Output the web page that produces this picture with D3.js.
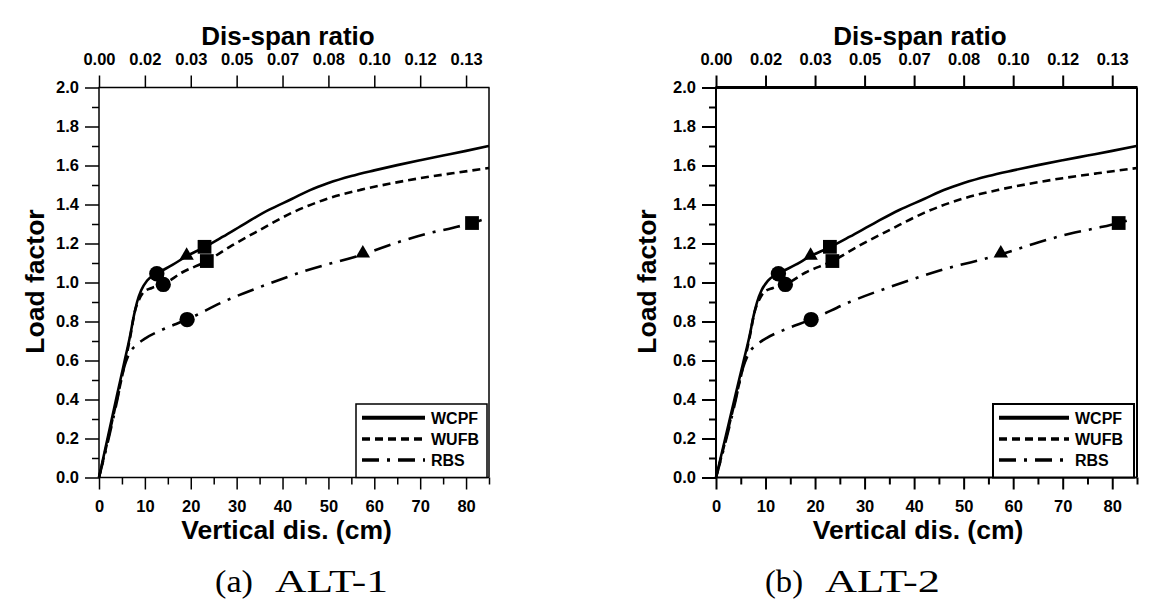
<!DOCTYPE html>
<html>
<head>
<meta charset="utf-8">
<script src="https://cdn.jsdelivr.net/npm/d3@7"></script>
<style>
  html, body { margin: 0; padding: 0; background: #fff; }
  svg { display: block; }
  .sans { font-family: "Liberation Sans", Arial, sans-serif; font-weight: bold; }
</style>
</head>
<body>
<svg id="chart" width="1168" height="607"></svg>
<script>
// ---------------- data ----------------
const xMajorTicks = [0, 10, 20, 30, 40, 50, 60, 70, 80];
const xMinorTicks = [5, 15, 25, 35, 45, 55, 65, 75, 85];
const ratioLabels = ["0.00", "0.02", "0.03", "0.05", "0.07", "0.08", "0.10", "0.12", "0.13"];
const yMajorTicks = [0, 0.2, 0.4, 0.6, 0.8, 1.0, 1.2, 1.4, 1.6, 1.8, 2.0];
const yMinorTicks = [0.1, 0.3, 0.5, 0.7, 0.9, 1.1, 1.3, 1.5, 1.7, 1.9];
const spanCm = 600;

const seriesNames = ["WCPF", "WUFB", "RBS"];

const wcpfX = [0, 2, 4, 5.5, 6.8, 7.6, 8.3, 9.2, 10.5, 12.6, 16, 19.1, 22.9, 27, 32, 37, 42, 46, 50, 55, 60, 65, 70, 75, 80, 85];
const wcpfY = [0, 0.215, 0.43, 0.59, 0.73, 0.83, 0.9, 0.96, 1.01, 1.045, 1.09, 1.135, 1.18, 1.235, 1.305, 1.372, 1.428, 1.474, 1.51, 1.546, 1.575, 1.602, 1.627, 1.651, 1.675, 1.70];

const wufbX = [0, 2, 4, 5.5, 6.8, 7.8, 8.7, 9.7, 11.5, 14.0, 18, 23.5, 29, 35.1, 42, 49.6, 57, 64.1, 70, 77, 85];
const wufbY = [0, 0.2, 0.41, 0.57, 0.72, 0.85, 0.91, 0.95, 0.972, 0.99, 1.05, 1.11, 1.19, 1.27, 1.357, 1.428, 1.475, 1.51, 1.535, 1.56, 1.587];

const rbsX = [0, 2, 4, 5.3, 6.7, 8.2, 10.2, 14, 19.2, 27, 35.1, 45, 57.6, 65, 71.4, 77, 81.3, 83.4];
const rbsY = [0, 0.19, 0.4, 0.55, 0.64, 0.68, 0.715, 0.76, 0.81, 0.9, 0.977, 1.06, 1.145, 1.205, 1.25, 1.28, 1.305, 1.32];

const circleX = [12.6, 14.0, 19.2];
const circleY = [1.045, 0.99, 0.81];
const triangleX = [19.1, 57.5];
const triangleY = [1.138, 1.15];
const squareX = [23.0, 23.5, 81.3];
const squareY = [1.183, 1.11, 1.305];

const captionTags = ["(a)", "(b)"];
const captionNames = ["ALT-1", "ALT-2"];
const xTitle = "Vertical dis. (cm)";
const topTitle = "Dis-span ratio";
const yTitle = "Load factor";

// ---------------- drawing ----------------
const svg = d3.select("#chart");

const series = [
  { name: seriesNames[0], xs: wcpfX, ys: wcpfY, dash: null },
  { name: seriesNames[1], xs: wufbX, ys: wufbY, dash: "8,5" },
  { name: seriesNames[2], xs: rbsX, ys: rbsY, dash: "17,8,3,8" }
];

function drawPanel(cfg) {
  const g = svg.append("g");
  const top = 87.5, bottom = 477.5;
  const x = d3.scaleLinear().domain([0, 85]).range([cfg.left, cfg.right]);
  const y = d3.scaleLinear().domain([0, 2]).range([bottom, top]);
  const xr = d3.scaleLinear().domain([0, 85 / spanCm]).range([cfg.left, cfg.right]);
  const sw = cfg.sw;

  function styleAxis(sel) {
    sel.select(".domain").remove();
    sel.selectAll("line").attr("stroke", "#000").attr("stroke-width", sw);
    sel.selectAll("text").attr("class", "sans").attr("font-size", 16.5).attr("fill", "#000");
  }

  // bottom axis
  g.append("g").attr("transform", `translate(0,${bottom})`)
    .call(d3.axisBottom(x).tickValues(xMajorTicks).tickSize(12).tickPadding(10.5).tickFormat(d3.format("d")))
    .call(styleAxis);
  g.append("g").attr("transform", `translate(0,${bottom})`)
    .call(d3.axisBottom(x).tickValues(xMinorTicks).tickSize(7).tickFormat(""))
    .call(styleAxis);
  // left axis
  g.append("g").attr("transform", `translate(${cfg.left},0)`)
    .call(d3.axisLeft(y).tickValues(yMajorTicks).tickSize(14).tickPadding(6).tickFormat(d3.format(".1f")))
    .call(styleAxis);
  g.append("g").attr("transform", `translate(${cfg.left},0)`)
    .call(d3.axisLeft(y).tickValues(yMinorTicks).tickSize(7).tickFormat(""))
    .call(styleAxis);
  // top axis (dis-span ratio)
  g.append("g").attr("transform", `translate(0,${top})`)
    .call(d3.axisTop(xr).tickValues(xMajorTicks.map(v => v / spanCm)).tickSize(12).tickPadding(10.5)
      .tickFormat((d, i) => ratioLabels[i]))
    .call(styleAxis);

  // frame
  g.append("line").attr("x1", cfg.left).attr("x2", cfg.left).attr("y1", top).attr("y2", bottom)
    .attr("stroke", "#000").attr("stroke-width", sw);
  g.append("line").attr("x1", cfg.left).attr("x2", cfg.right).attr("y1", bottom).attr("y2", bottom)
    .attr("stroke", "#000").attr("stroke-width", sw);
  g.append("line").attr("x1", cfg.right).attr("x2", cfg.right).attr("y1", top).attr("y2", bottom)
    .attr("stroke", "#000").attr("stroke-width", sw);
  g.append("line").attr("x1", cfg.left - 0.5).attr("x2", cfg.right + 0.5).attr("y1", top).attr("y2", top)
    .attr("stroke", "#000").attr("stroke-width", cfg.topW);

  // curves
  const line = d3.line().x(d => x(d[0])).y(d => y(d[1])).curve(d3.curveMonotoneX);
  series.forEach(s => {
    const pts = s.xs.map((v, i) => [v, s.ys[i]]);
    g.append("path").attr("d", line(pts)).attr("fill", "none").attr("stroke", "#000")
      .attr("stroke-width", 2.6).attr("stroke-dasharray", s.dash);
  });

  // markers
  const sym = d3.symbol();
  circleX.forEach((v, i) => {
    g.append("path").attr("transform", `translate(${x(v)},${y(circleY[i])})`)
      .attr("d", sym.type(d3.symbolCircle).size(185)()).attr("fill", "#000");
  });
  triangleX.forEach((v, i) => {
    g.append("path").attr("transform", `translate(${x(v)},${y(triangleY[i])})`)
      .attr("d", sym.type(d3.symbolTriangle).size(90)()).attr("fill", "#000");
  });
  squareX.forEach((v, i) => {
    g.append("path").attr("transform", `translate(${x(v)},${y(squareY[i])})`)
      .attr("d", sym.type(d3.symbolSquare).size(190)()).attr("fill", "#000");
  });

  // legend
  const lg = g.append("g");
  lg.append("rect").attr("x", cfg.legL).attr("y", 404).attr("width", cfg.legR - cfg.legL).attr("height", bottom - 404)
    .attr("fill", "#fff").attr("stroke", "#000").attr("stroke-width", sw);
  const rowsY = [417.7, 439, 460];
  series.forEach((s, i) => {
    lg.append("line").attr("x1", cfg.legL + 6).attr("x2", cfg.legL + 6 + cfg.legLine)
      .attr("y1", rowsY[i]).attr("y2", rowsY[i])
      .attr("stroke", "#000").attr("stroke-width", i === 0 ? 4 : 3.5).attr("stroke-dasharray", s.dash);
    lg.append("text").attr("class", "sans").attr("font-size", 16)
      .attr("x", cfg.legL + 6 + cfg.legLine + 6).attr("y", rowsY[i] + 6)
      .text(s.name);
  });

  // titles
  g.append("text").attr("class", "sans").attr("font-size", 26).attr("text-anchor", "middle")
    .attr("x", cfg.topTitleX).attr("y", 45).text(topTitle);
  g.append("text").attr("class", "sans").attr("font-size", 26.5).attr("text-anchor", "middle")
    .attr("x", cfg.xTitleX).attr("y", 539).text(xTitle);
  g.append("text").attr("class", "sans").attr("font-size", 26.5).attr("text-anchor", "middle")
    .attr("transform", `translate(${cfg.yTitleX},281.5) rotate(-90)`).text(yTitle);

  // caption
  const cap = g.append("text").attr("font-family", "'Liberation Serif', 'DejaVu Serif', serif")
    .attr("font-size", 32).attr("y", 592);
  cap.append("tspan").attr("x", cfg.capL).attr("textLength", 38).attr("lengthAdjust", "spacingAndGlyphs")
    .text(captionTags[cfg.idx]);
  cap.append("tspan").attr("x", cfg.capL + 60).attr("textLength", cfg.capW - 60).attr("lengthAdjust", "spacingAndGlyphs")
    .text(captionNames[cfg.idx]);
}

drawPanel({
  idx: 0, left: 99, right: 489, sw: 1.5, topW: 1.5,
  legL: 356, legR: 487, legLine: 63,
  topTitleX: 288, xTitleX: 286.5, yTitleX: 43.5,
  capL: 215, capW: 173
});
drawPanel({
  idx: 1, left: 716, right: 1137, sw: 2, topW: 3,
  legL: 993, legR: 1134, legLine: 70,
  topTitleX: 920, xTitleX: 918, yTitleX: 655.5,
  capL: 765, capW: 175
});
</script>
</body>
</html>
